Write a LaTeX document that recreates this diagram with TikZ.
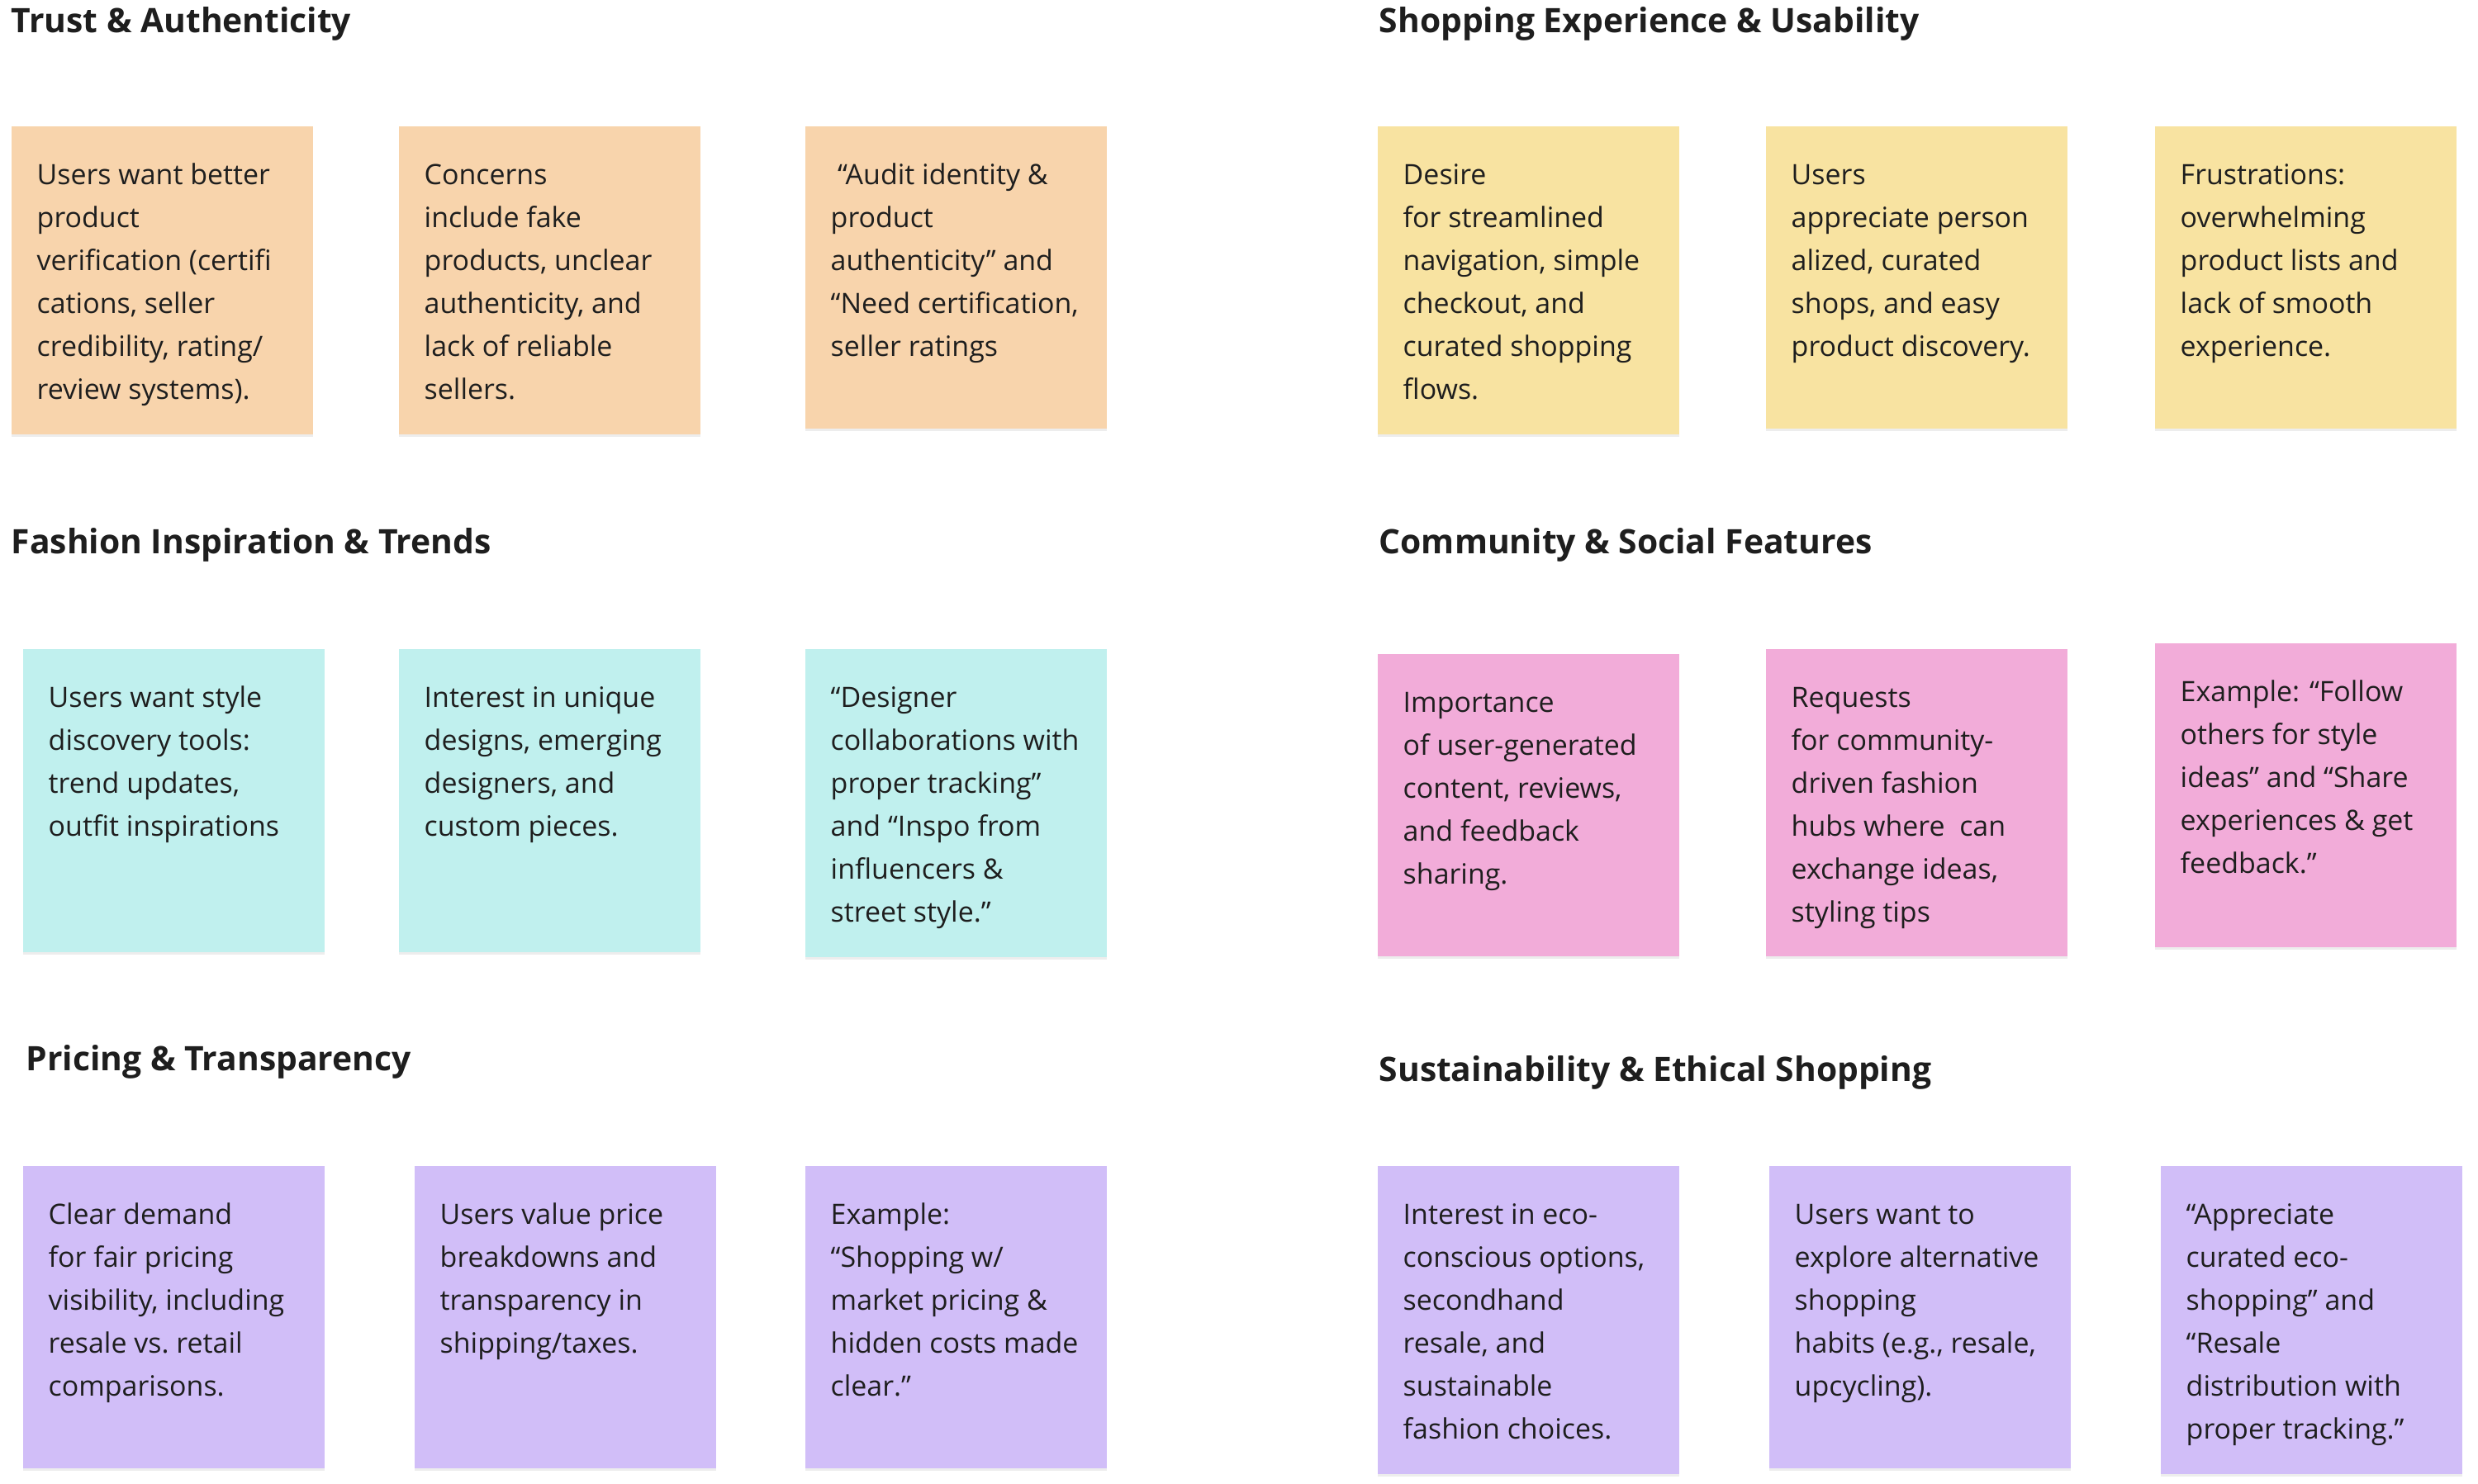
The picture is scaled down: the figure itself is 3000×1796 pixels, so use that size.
\documentclass[tikz,border=0pt]{standalone}
\usepackage{fontspec}
\setmainfont{Open Sans}
\usepackage{tikz}
\usetikzlibrary{shadows}

\definecolor{peach}{HTML}{F8D4AC}
\definecolor{sand}{HTML}{F8E3A1}
\definecolor{mint}{HTML}{C0F0EE}
\definecolor{rose}{HTML}{F2ACD9}
\definecolor{lilac}{HTML}{D1BEF8}
\definecolor{ink}{HTML}{1E1E1E}

\begin{document}
\begin{tikzpicture}[x=0.01cm, y=-0.01cm,
  note/.style={rectangle, inner sep=0pt, anchor=north west, minimum width=3.65cm,
    drop shadow={shadow xshift=0pt, shadow yshift=-0.9pt, fill=black, opacity=.07}},
  txt/.style={anchor=base west, inner sep=0pt, text=ink,
    font=\fontsize{9.65pt}{14.8pt}\selectfont},
  title/.style={anchor=base west, inner sep=0pt, text=ink,
    font=\fontsize{11.6pt}{14pt}\selectfont\bfseries}]

\useasboundingbox[fill=white] (0,0) rectangle (3000,1796);

% section titles
\node[title] (h1) at (13,39) {Trust \& Authenticity};
\node[title] (h2) at (1669,39) {Shopping Experience \& Usability};
\node[title] (h3) at (13,670) {Fashion Inspiration \& Trends};
\node[title] (h4) at (1669,670) {Community \& Social Features};
\node[title] (h5) at (31,1296) {Pricing \& Transparency};
\node[title] (h6) at (1669,1309) {Sustainability \& Ethical Shopping};

% trust
\node[note, fill=peach, minimum height=3.73cm] (b1) at (13,152) {};
\node[note, fill=peach, minimum height=3.73cm] (b2) at (482,152) {};
\node[note, fill=peach, minimum height=3.66cm] (b3) at (974,152) {};
\node[txt] (t1) at ([shift={(31,71)}]b1.north west) {\parbox[t]{3.6cm}{Users want better\\product\\verification (certifi\\cations, seller\\credibility, rating/\\review systems).}};
\node[txt] (t2) at ([shift={(31,71)}]b2.north west) {\parbox[t]{3.6cm}{Concerns\\include fake\\products, unclear\\authenticity, and\\lack of reliable\\sellers.}};
\node[txt] (t3) at ([shift={(31,71)}]b3.north west) {\parbox[t]{3.6cm}{\hspace{0.25em}“Audit identity \&\\product\\authenticity” and\\“Need certification,\\seller ratings}};

% shopping
\node[note, fill=sand, minimum height=3.73cm] (b4) at (1667,152) {};
\node[note, fill=sand, minimum height=3.66cm] (b5) at (2137,152) {};
\node[note, fill=sand, minimum height=3.66cm] (b6) at (2608,152) {};
\node[txt] (t4) at ([shift={(31,71)}]b4.north west) {\parbox[t]{3.6cm}{Desire\\for streamlined\\navigation, simple\\checkout, and\\curated shopping\\flows.}};
\node[txt] (t5) at ([shift={(31,71)}]b5.north west) {\parbox[t]{3.6cm}{Users\\appreciate person\\alized, curated\\shops, and easy\\product discovery.}};
\node[txt] (t6) at ([shift={(31,71)}]b6.north west) {\parbox[t]{3.6cm}{Frustrations:\\overwhelming\\product lists and\\lack of smooth\\experience.}};

% fashion
\node[note, fill=mint, minimum height=3.67cm] (b7) at (27,785) {};
\node[note, fill=mint, minimum height=3.67cm] (b8) at (482,785) {};
\node[note, fill=mint, minimum height=3.73cm] (b9) at (974,785) {};
\node[txt] (t7) at ([shift={(31,71)}]b7.north west) {\parbox[t]{3.6cm}{Users want style\\discovery tools:\\trend updates,\\outfit inspirations}};
\node[txt] (t8) at ([shift={(31,71)}]b8.north west) {\parbox[t]{3.6cm}{Interest in unique\\designs, emerging\\designers, and\\custom pieces.}};
\node[txt] (t9) at ([shift={(31,71)}]b9.north west) {\parbox[t]{3.6cm}{“Designer\\collaborations with\\proper tracking”\\and “Inspo from\\influencers \&\\street style.”}};

% community
\node[note, fill=rose, minimum height=3.66cm] (b10) at (1667,791) {};
\node[note, fill=rose, minimum height=3.72cm] (b11) at (2137,785) {};
\node[note, fill=rose, minimum height=3.68cm] (b12) at (2608,778) {};
\node[txt] (t10) at ([shift={(31,71)}]b10.north west) {\parbox[t]{3.6cm}{Importance\\of user-generated\\content, reviews,\\and feedback\\sharing.}};
\node[txt] (t11) at ([shift={(31,71)}]b11.north west) {\parbox[t]{3.6cm}{Requests\\for community-\\driven fashion\\hubs where\ \ can\\exchange ideas,\\styling tips}};
\node[txt] (t12) at ([shift={(31,71)}]b12.north west) {\parbox[t]{3.6cm}{Example: “Follow\\others for style\\ideas” and “Share\\experiences \& get\\feedback.”}};

% pricing
\node[note, fill=lilac, minimum height=3.66cm] (b13) at (27,1411) {};
\node[note, fill=lilac, minimum height=3.66cm] (b14) at (501,1411) {};
\node[note, fill=lilac, minimum height=3.66cm] (b15) at (974,1411) {};
\node[txt] (t13) at ([shift={(31,71)}]b13.north west) {\parbox[t]{3.6cm}{Clear demand\\for fair pricing\\visibility, including\\resale vs.\ retail\\comparisons.}};
\node[txt] (t14) at ([shift={(31,71)}]b14.north west) {\parbox[t]{3.6cm}{Users value price\\breakdowns and\\transparency in\\shipping/taxes.}};
\node[txt] (t15) at ([shift={(31,71)}]b15.north west) {\parbox[t]{3.6cm}{Example:\\“Shopping w/\\market pricing \&\\hidden costs made\\clear.”}};

% sustainability
\node[note, fill=lilac, minimum height=3.73cm] (b16) at (1667,1411) {};
\node[note, fill=lilac, minimum height=3.66cm] (b17) at (2141,1411) {};
\node[note, fill=lilac, minimum height=3.73cm] (b18) at (2615,1411) {};
\node[txt] (t16) at ([shift={(31,71)}]b16.north west) {\parbox[t]{3.6cm}{Interest in eco-\\conscious options,\\secondhand\\resale, and\\sustainable\\fashion choices.}};
\node[txt] (t17) at ([shift={(31,71)}]b17.north west) {\parbox[t]{3.6cm}{Users want to\\explore alternative\\shopping\\habits (e.g., resale,\\upcycling).}};
\node[txt] (t18) at ([shift={(31,71)}]b18.north west) {\parbox[t]{3.6cm}{“Appreciate\\curated eco-\\shopping” and\\“Resale\\distribution with\\proper tracking.”}};
\end{tikzpicture}
\end{document}
